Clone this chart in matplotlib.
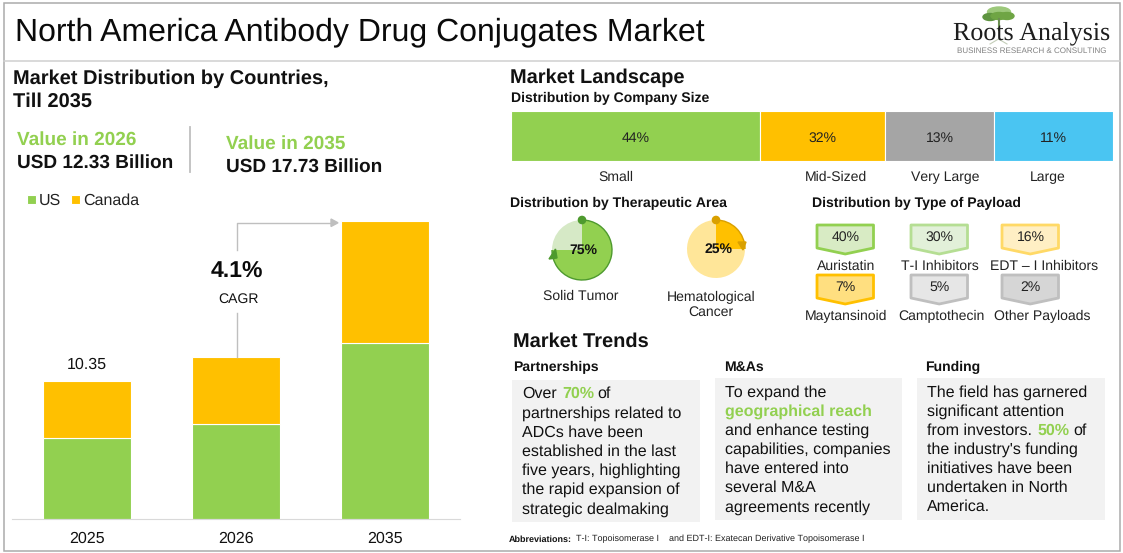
import matplotlib
matplotlib.use('Agg')
import matplotlib.pyplot as plt
from matplotlib.patches import Rectangle, Polygon, Ellipse, Arc, Circle

plt.rcParams['font.family'] = ['Liberation Sans', 'DejaVu Sans']
plt.rcParams['text.hinting'] = 'no_hinting'
plt.rcParams['text.hinting_factor'] = 1

W, H = 1123, 553

GREEN = '#92D050'
ORANGE = '#FFC000'
GRAY_LINE = '#BFBFBF'

# market chart (heights, only the first total is printed)
years = ['2025', '2026', '2035']
us_values = [6.07, 7.12, 13.29]
canada_values = [4.28, 5.11, 9.21]

# company size strip, spans, labels as printed
size_names = ['Small', 'Mid-Sized', 'Very Large', 'Large']
size_labels = ['44%', '32%', '13%', '11%']
size_spans = [41.3, 20.9, 18.1, 19.7]
size_colors = [GREEN, ORANGE, '#A5A5A5', '#4AC5F2']

area_names = ['Solid Tumor', 'Hematological\nCancer']
area_values = [75, 25]

payload_names = ['Auristatin', 'T-I Inhibitors', 'EDT – I Inhibitors',
                 'Maytansinoid', 'Camptothecin', 'Other Payloads']
payload_values = [40, 30, 16, 7, 5, 2]

partnership_lines = ['partnerships related to', 'ADCs have been', 'established in the last',
                     'five years, highlighting', 'the rapid expansion of', 'strategic dealmaking']
mna_lines = ['To expand the', None, 'and enhance testing', 'capabilities, companies',
             'have entered into', 'several M&A', 'agreements recently']
funding_lines = ['The field has garnered', 'significant attention', None, "the industry's funding",
                 'initiatives have been', 'undertaken in North', 'America.']


def px_axes(fig, left, top, right, bottom, **kw):
    return fig.add_axes([left / W, 1 - bottom / H, (right - left) / W, (bottom - top) / H], **kw)


fig = plt.figure(figsize=(W / 100, H / 100), dpi=100, facecolor='white')

# canvas in pixel coordinates for the infographic furniture, on top of the data axes
bg = fig.add_axes([0, 0, 1, 1])
bg.set_xlim(0, W)
bg.set_ylim(H, 0)
bg.axis('off')
bg.set_zorder(5)


def txt(x, y, s, size=10.1, weight='normal', color='#111111', ha='left', va='center', **kw):
    return bg.text(x, y + 1.2, s, fontsize=size, fontweight=weight, color=color, ha=ha, va=va, **kw)


# frame and header
bg.add_patch(Rectangle((3.5, 3), 1116.5, 547.5, fill=False, ec='#ABABAB', lw=1.1))
bg.plot([4, 1120], [60.5, 60.5], color='#CFCFCF', lw=1.1)
txt(15, 31, 'North America Antibody Drug Conjugates Market', size=23, color='#0A0A0A')

# logo
bg.add_patch(Ellipse((999, 12), 23, 10, color='#9CC87A', zorder=1))
bg.add_patch(Ellipse((990, 17), 14, 7, color='#5E9440', zorder=1))
bg.add_patch(Ellipse((1007, 16), 14, 7, color='#6FA544', zorder=1))
bg.add_patch(Ellipse((999, 16), 16, 7, color='#6FA544', zorder=1))
bg.plot([998.5, 998.5], [19, 30], color='#6B8E50', lw=1.5, zorder=1)
bg.plot([990, 998.5, 1007], [44, 39, 44], color='#C3CDB8', lw=0.8, zorder=1)
txt(1031.5, 32, 'Roots Analysis', size=18.6, color='#1E1E1E', ha='center', family='Liberation Serif')
txt(1031.5, 50, 'BUSINESS RESEARCH & CONSULTING', size=5.8, color='#808080', ha='center')

# left column headings
txt(13, 77, 'Market Distribution by Countries,', size=14.3, weight='bold')
txt(13, 100, 'Till 2035', size=14.3, weight='bold')
txt(17, 139, 'Value in 2026', size=13.4, weight='bold', color=GREEN)
txt(17, 162, 'USD 12.33 Billion', size=13.4, weight='bold')
txt(226, 143, 'Value in 2035', size=13.4, weight='bold', color=GREEN)
txt(226, 166, 'USD 17.73 Billion', size=13.4, weight='bold')
bg.plot([190, 190], [127, 172], color=GRAY_LINE, lw=1.3)

# stacked bars
ax = px_axes(fig, 11.5, 209.5, 459.5, 518.5)
ax.patch.set_alpha(0)
positions = range(len(years))
ax.bar(positions, us_values, width=0.59, color=GREEN, ec='white', lw=0.8, label='US')
ax.bar(positions, canada_values, width=0.59, bottom=us_values, color=ORANGE, ec='white', lw=0.8,
       label='Canada')
ax.set_xlim(-0.507, 2.5)
ax.set_ylim(0, 23.34)
ax.set_xticks(list(positions), years)
ax.tick_params(axis='x', length=0, labelsize=11.8, pad=9, labelcolor='#111111')
ax.set_yticks([])
for side in ['top', 'left', 'right']:
    ax.spines[side].set_visible(False)
ax.spines['bottom'].set_color('#D9D9D9')
ax.legend(loc='center left', bbox_to_anchor=(27 / W, 1 - 201 / H), bbox_transform=fig.transFigure,
          ncol=2, frameon=False, fontsize=11.3, handlelength=0.55, handleheight=0.55, handletextpad=0.22,
          columnspacing=0.62, borderpad=0, borderaxespad=0, labelcolor='#222222')
ax.text(0, us_values[0] + canada_values[0] + 1.3, '10.35', ha='center', va='center', fontsize=11.3,
        color='#111111')

# CAGR arrow
bg.plot([236.5, 236.5], [357, 313], color=GRAY_LINE, lw=1)
bg.plot([236.5, 236.5, 331], [250, 222.8, 222.8], color=GRAY_LINE, lw=1)
bg.add_patch(Polygon([[331, 219], [338, 222.8], [331, 226.5]], color=GRAY_LINE))
txt(237, 270, '4.1%', size=16.4, weight='bold', ha='center', color='#0A0A0A')
txt(239, 298, 'CAGR', size=10.2, ha='center')

# market landscape
txt(510, 76, 'Market Landscape', size=14.2, weight='bold')
txt(511, 97, 'Distribution by Company Size', weight='bold')

strip = px_axes(fig, 511, 110.5, 1113, 160.5)
strip.axis('off')
strip.set_xlim(0, sum(size_spans))
strip.set_ylim(0, 1)
left = 0
for span, lab, col in zip(size_spans, size_labels, size_colors):
    strip.barh(0.5, span, height=1, left=left, color=col, ec='white', lw=0.8)
    strip.text(left + span / 2, 0.44, lab, ha='center', va='center', fontsize=10, color='#222222')
    left += span
for x, name in zip([616, 836, 945, 1048], size_names):
    txt(x, 176, name, size=10, ha='center', color='#222222')

# therapeutic area pies
txt(510, 202, 'Distribution by Therapeutic Area', weight='bold')
pie_specs = [(582, 250, 30, GREEN, '#D6E9C6', '#4E9A2E', 583),
             (716, 249, 29, ORANGE, '#FFE699', '#D9A000', 719)]
for i, (cx, cy, r, main, pale, dark, lx) in enumerate(pie_specs):
    pie_ax = px_axes(fig, cx - r, cy - r, cx + r, cy + r)
    share = area_values[i]
    pie_ax.pie([share, 100 - share], colors=[main, pale], startangle=90, counterclock=False, radius=1)
    pie_ax.set_xlim(-1, 1)
    pie_ax.set_ylim(-1, 1)
    # Arc angles are flipped by the inverted y axis of the canvas
    bg.add_patch(Arc((cx, cy), 2 * r, 2 * r, theta1=-90, theta2=-90 + 3.6 * share, color=dark, lw=1,
                     zorder=4))
    bg.add_patch(Circle((cx, cy - r), 3.6, color=dark, zorder=5))
    txt(lx, cy - 1, f'{share}%', size=10, weight='bold', ha='center', zorder=6, color='#111111')
bg.add_patch(Polygon([[549, 259], [555.5, 249], [557, 258]], color='#4E9A2E', zorder=5))
bg.add_patch(Polygon([[738, 242], [746, 242], [743, 250]], color='#D9A000', zorder=5))
txt(581, 295, area_names[0], size=10, ha='center', color='#222222')
txt(711, 304, area_names[1], size=10, ha='center', color='#222222', linespacing=1.15)

# payload tags
txt(812, 202, 'Distribution by Type of Payload', weight='bold')
tag_lefts = [817, 911, 1002]
tag_tops = [225, 275]
label_x = [846, 940, 1044, 846, 941, 1042]
tag_faces = ['#D8EBC4', '#E2F0D9', '#FFEFC4', '#FFDF80', '#E6E6E6', '#D6D6D6']
tag_edges = [GREEN, '#B5DE93', '#FFD966', ORANGE, GRAY_LINE, GRAY_LINE]
for i, (name, val) in enumerate(zip(payload_names, payload_values)):
    x0 = tag_lefts[i % 3]
    y0 = tag_tops[i // 3]
    x1 = x0 + 56.5
    outline = [[x0, y0], [x1, y0], [x1, y0 + 23], [(x0 + x1) / 2, y0 + 29], [x0, y0 + 23]]
    bg.add_patch(Polygon(outline, fc=tag_faces[i], ec=tag_edges[i], lw=2, joinstyle='round'))
    txt((x0 + x1) / 2 + 0.5, y0 + 11, f'{val}%', size=10, ha='center', color='#222222')
    txt(label_x[i], y0 + 40, name, size=10, ha='center', color='#222222')

# market trends
txt(513, 340.5, 'Market Trends', size=14.2, weight='bold')
txt(513, 366, 'Partnerships', weight='bold')
txt(724, 366, 'M&As', weight='bold')
txt(925, 366, 'Funding', weight='bold')
bg.add_patch(Rectangle((512, 380), 188, 142, fc='#F2F2F2', ec='none', zorder=0))
bg.add_patch(Rectangle((715, 378), 186.5, 142, fc='#F2F2F2', ec='none', zorder=0))
bg.add_patch(Rectangle((917, 378), 188, 142, fc='#F2F2F2', ec='none', zorder=0))

BODY = 11.5
STEP = 19.15
txt(522, 393, 'Over', size=BODY)
txt(562, 393, '70%', size=BODY, weight='bold', color=GREEN)
txt(597.5, 393, 'of', size=BODY)
for i, line in enumerate(partnership_lines):
    txt(522, 393 + STEP * (i + 1), line, size=BODY)
for i, line in enumerate(mna_lines):
    if line:
        txt(725, 391 + STEP * i, line, size=BODY)
txt(725, 391 + STEP, 'geographical reach', size=BODY, weight='bold', color=GREEN)
for i, line in enumerate(funding_lines):
    if line:
        txt(927, 391 + STEP * i, line, size=BODY)
txt(927, 391 + STEP * 2, 'from investors.', size=BODY)
txt(1038, 391 + STEP * 2, '50%', size=BODY, weight='bold', color=GREEN)
txt(1073.5, 391 + STEP * 2, 'of', size=BODY)

# footnote
txt(509, 538, 'Abbreviations:', size=6.8, weight='bold')
txt(576, 538, 'T-I: Topoisomerase I', size=6.8, color='#222222')
txt(669, 538, 'and EDT-I: Exatecan Derivative Topoisomerase I', size=6.8, color='#222222')

fig.savefig('out.png', dpi=100)
